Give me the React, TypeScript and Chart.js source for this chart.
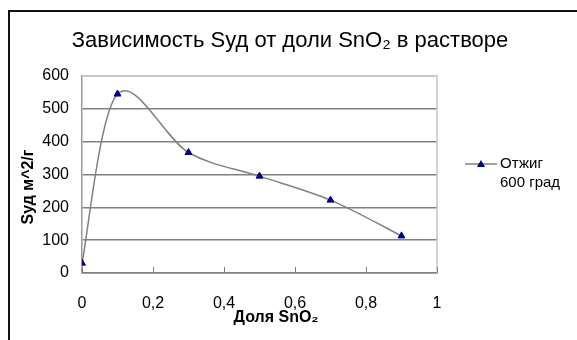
import React, { useEffect, useRef } from "react";
import { Chart, registerables } from "chart.js";

Chart.register(...registerables);

const xValues = [0, 0.1, 0.3, 0.5, 0.7, 0.9];
const yValues = [30, 545, 367, 295, 222, 113];
const xTickValues = [0, 0.2, 0.4, 0.6, 0.8, 1];
const xTickLabels = ["0", "0,2", "0,4", "0,6", "0,8", "1"];
const yTickValues = [0, 100, 200, 300, 400, 500, 600];
const titleText = "Зависимость Sуд от доли SnO₂ в растворе";
const xAxisTitle = "Доля SnO₂";
const yAxisTitle = "Sуд м^2/г";
const seriesLabel = ["Отжиг", "600 град"];

const FONT = "'Liberation Sans', Arial, sans-serif";
const LINE_COLOR = "#808080";
const MARKER_COLOR = "#000080";

// Excel-style smoothing: Catmull-Rom control points (1/6 of neighbour chord)
const smoothLine = {
  id: "smoothLine",
  beforeDatasetDraw(chart: any, args: any) {
    const meta = args.meta;
    const line = meta.dataset;
    if (!line) return;
    if (typeof line.updateControlPoints === "function") {
      line.updateControlPoints(chart.chartArea, meta.indexAxis || "x");
    }
    const pts = meta.data;
    const n = pts.length;
    for (let i = 0; i < n; i++) {
      const p = pts[i];
      const prev = pts[Math.max(0, i - 1)];
      const next = pts[Math.min(n - 1, i + 1)];
      const tx = (next.x - prev.x) / 6;
      const ty = (next.y - prev.y) / 6;
      p.cp1x = p.x - tx;
      p.cp1y = p.y - ty;
      p.cp2x = p.x + tx;
      p.cp2y = p.y + ty;
    }
    delete line._path;
  },
};

const decor = {
  id: "decor",
  beforeDatasetsDraw(chart: any) {
    const { ctx, chartArea } = chart;
    const { left, right, top, bottom } = chartArea;
    ctx.save();
    ctx.strokeStyle = "#c4c4c4";
    ctx.lineWidth = 1.5;
    ctx.beginPath();
    ctx.moveTo(left, top);
    ctx.lineTo(right, top);
    ctx.lineTo(right, bottom);
    ctx.stroke();
    const xs = chart.scales.x;
    ctx.strokeStyle = LINE_COLOR;
    ctx.lineWidth = 1;
    ctx.beginPath();
    xTickValues.forEach((v) => {
      const px = Math.round(xs.getPixelForValue(v)) + 0.5;
      ctx.moveTo(px, bottom);
      ctx.lineTo(px, bottom - 6);
    });
    ctx.stroke();
    ctx.restore();
  },
  afterDraw(chart: any) {
    const { ctx } = chart;
    ctx.save();
    ctx.fillStyle = "#000";
    ctx.font = `22px ${FONT}`;
    ctx.textAlign = "center";
    ctx.textBaseline = "middle";
    ctx.fillText(titleText, 290, 41);
    ctx.font = `bold 16px ${FONT}`;
    ctx.fillText(xAxisTitle, 276, 318);
    ctx.save();
    ctx.translate(29, 187);
    ctx.rotate(-Math.PI / 2);
    ctx.fillText(yAxisTitle, 0, 0);
    ctx.restore();
    const ly = 164;
    ctx.strokeStyle = LINE_COLOR;
    ctx.lineWidth = 1.5;
    ctx.beginPath();
    ctx.moveTo(465, ly);
    ctx.lineTo(497, ly);
    ctx.stroke();
    ctx.fillStyle = MARKER_COLOR;
    ctx.beginPath();
    ctx.moveTo(481, ly - 4);
    ctx.lineTo(485, ly + 3);
    ctx.lineTo(477, ly + 3);
    ctx.closePath();
    ctx.fill();
    ctx.fillStyle = "#000";
    ctx.font = `15px ${FONT}`;
    ctx.textAlign = "left";
    ctx.fillText(seriesLabel[0], 500, ly);
    ctx.fillText(seriesLabel[1], 500, ly + 19);
    ctx.restore();
  },
};

export default function App() {
  const ref = useRef<HTMLCanvasElement | null>(null);

  useEffect(() => {
    if (!ref.current) return;
    const chart = new Chart(ref.current, {
      type: "line",
      data: {
        datasets: [
          {
            label: seriesLabel.join(" "),
            data: xValues.map((x, i) => ({ x, y: yValues[i] })),
            borderColor: LINE_COLOR,
            borderWidth: 1.5,
            tension: 0.4,
            pointStyle: "triangle",
            pointRadius: 4,
            pointBackgroundColor: MARKER_COLOR,
            pointBorderColor: MARKER_COLOR,
            pointBorderWidth: 1,
          },
        ],
      },
      options: {
        animation: false,
        responsive: false,
        devicePixelRatio: 1,
        layout: { padding: { top: 76, right: 140, bottom: 0, left: 0 } },
        plugins: {
          legend: { display: false },
          title: { display: false },
          tooltip: { enabled: false },
        },
        scales: {
          x: {
            type: "linear",
            min: 0,
            max: 1,
            afterBuildTicks: (s: any) => {
              s.ticks = xTickValues.map((v) => ({ value: v }));
            },
            afterFit: (s: any) => {
              s.height = 67;
            },
            ticks: {
              padding: 21,
              maxRotation: 0,
              color: "#000",
              font: { family: FONT, size: 16 },
              callback: (v: any) => xTickLabels[Math.round(Number(v) * 5)],
            },
            grid: { display: false, drawTicks: false },
            border: { display: true, color: LINE_COLOR, width: 1.5 },
          },
          y: {
            min: 0,
            max: 600,
            afterBuildTicks: (s: any) => {
              s.ticks = yTickValues.map((v) => ({ value: v }));
            },
            afterFit: (s: any) => {
              s.width = 82;
            },
            ticks: {
              padding: 13,
              color: "#000",
              font: { family: FONT, size: 16 },
            },
            grid: {
              drawTicks: false,
              color: (c: any) => (c.tick && c.tick.value === 600 ? "#c4c4c4" : LINE_COLOR),
              lineWidth: 1.5,
            },
            border: { display: true, color: "#9a9a9a", width: 1.5 },
          },
        },
      },
      plugins: [smoothLine, decor],
    } as any);
    return () => chart.destroy();
  }, []);

  return (
    <>
      <div
        style={{
          position: "fixed",
          left: 8,
          top: 10,
          width: 620,
          height: 400,
          borderLeft: "2px solid #111",
          borderTop: "2px solid #111",
          boxSizing: "border-box",
        }}
      />
      <canvas
        ref={ref}
        width={577}
        height={340}
        style={{ position: "fixed", left: 0, top: 0, width: 577, height: 340 }}
      />
    </>
  );
}
